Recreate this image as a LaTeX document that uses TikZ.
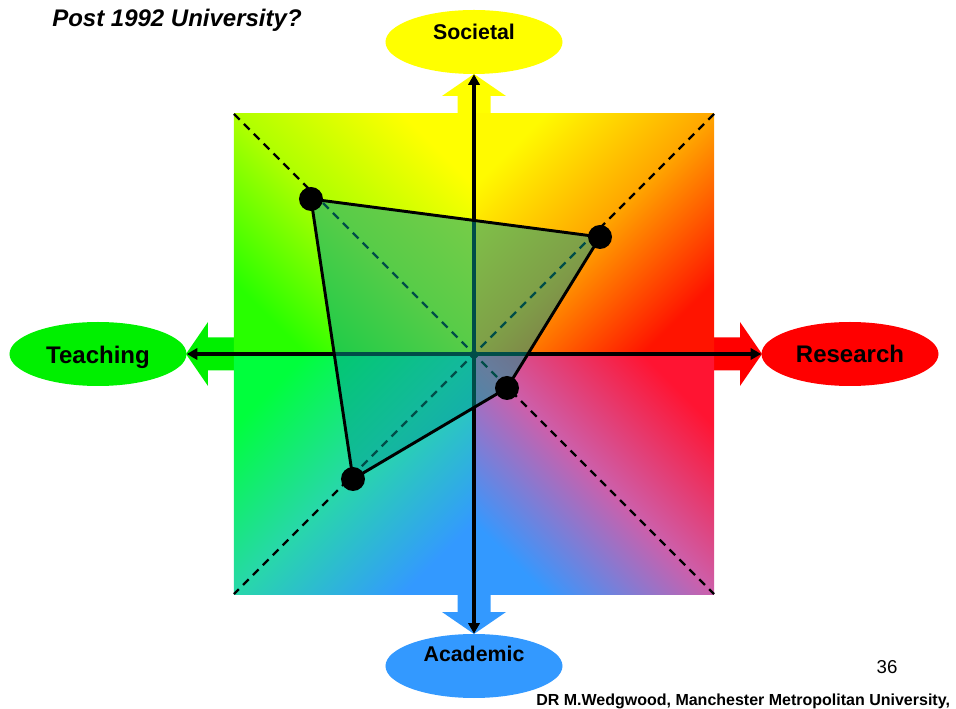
\documentclass[tikz,border=0pt]{standalone}
\usepackage{fontspec}
\setmainfont{Liberation Sans}
\usetikzlibrary{shapes.geometric,arrows.meta}
\definecolor{socyellow}{RGB}{255,255,0}
\definecolor{teachgreen}{RGB}{0,240,0}
\definecolor{resred}{RGB}{255,0,0}
\definecolor{acadblue}{RGB}{51,153,255}
\definecolor{profilefill}{RGB}{0,155,145}
\begin{document}
\begin{tikzpicture}[x=0.75pt,y=0.75pt,
    pole/.style={ellipse, inner sep=0pt, minimum width=132.75pt, minimum height=48pt},
    poletext/.style={anchor=base, inner sep=0pt, font=\bfseries\fontsize{16}{18}\selectfont},
    bigtext/.style={poletext, font=\bfseries\fontsize{18}{20}\selectfont},
    axisline/.style={line width=2.5pt, -{Triangle[length=8pt,width=8.5pt]}},
    diag/.style={line width=1.8pt, dash pattern=on 6pt off 4.5pt},
    dot/.style={circle, fill=black, inner sep=0pt, minimum size=18pt}]
  \useasboundingbox (-474,-355) rectangle (482,354);
  % wide arrows behind the square
  \foreach \ang/\len/\col in {0/288/resred, 90/280/socyellow, 180/288/teachgreen, 270/280/acadblue}
    \fill[\col, rotate=\ang] (0,-16.5) -- ({\len-22},-16.5) -- ({\len-22},-32) -- (\len,0)
      -- ({\len-22},32) -- ({\len-22},16.5) -- (0,16.5) -- cycle;
  % quadrants
  \shade[bottom color={rgb,255:red,40;green,255;blue,0}, top color={rgb,255:red,255;green,255;blue,0},
    middle color={rgb,255:red,175;green,255;blue,0}, shading angle=-45] (-240,0) rectangle (0,240);
  \shade[bottom color={rgb,255:red,255;green,20;blue,0}, top color={rgb,255:red,255;green,250;blue,0},
    middle color={rgb,255:red,255;green,165;blue,0}, shading angle=45] (0,0) rectangle (240,240);
  \shade[bottom color=acadblue, top color={rgb,255:red,255;green,20;blue,50},
    middle color={rgb,255:red,205;green,95;blue,170}, shading angle=-45] (0,-240) rectangle (240,0);
  \shade[bottom color=acadblue, top color={rgb,255:red,0;green,255;blue,60},
    middle color={rgb,255:red,40;green,215;blue,170}, shading angle=45] (-240,-240) rectangle (0,0);
  % poles
  \node[pole, fill=socyellow] (soc) at (0,312) {};
  \node[pole, fill=teachgreen] (teach) at (-376,0) {};
  \node[pole, fill=resred] (res) at (376,0) {};
  \node[pole, fill=acadblue] (acad) at (0,-312) {};
  \node[poletext] (soclabel) at (0,314) {Societal};
  \node[bigtext] (teachlabel) at (-376,-10) {Teaching};
  \node[bigtext] (reslabel) at (376,-9) {Research};
  \node[poletext] (acadlabel) at (0,-307) {Academic};
  % axes
  \coordinate (ctr) at (0,0);
  \draw[axisline] (ctr) -- (soc);
  \draw[axisline] (ctr) -- (teach);
  \draw[axisline] (ctr) -- (res);
  \draw[axisline] (ctr) -- (acad);
  % diagonals
  \coordinate (tl) at (-240,240);
  \coordinate (tr) at (240,240);
  \coordinate (br) at (240,-240);
  \coordinate (bl) at (-240,-240);
  \draw[diag] (tl) -- (br);
  \draw[diag] (tr) -- (bl);
  % profile
  \coordinate (v1) at (-163,155);
  \coordinate (v2) at (126,117);
  \coordinate (v3) at (33,-34);
  \coordinate (v4) at (-121,-125);
  \filldraw[fill=profilefill, fill opacity=0.5, line width=2.2pt, line join=round]
    (v1) -- (v2) -- (v3) -- (v4) -- cycle;
  \foreach \v in {1,...,4}
    \node[dot] (d\v) at (v\v) {};
  % texts
  \node[anchor=base west, inner sep=0pt, font=\bfseries\itshape\fontsize{18}{20}\selectfont]
    (title) at (-422,327) {Post 1992 University?};
  \node[anchor=base, inner sep=0pt, font=\fontsize{14}{16}\selectfont] (pageno) at (413,-319) {36};
  \node[anchor=base west, inner sep=0pt, font=\bfseries\fontsize{12}{14}\selectfont]
    (credit) at (62,-351) {DR M.Wedgwood, Manchester Metropolitan University,};
\end{tikzpicture}
\end{document}
